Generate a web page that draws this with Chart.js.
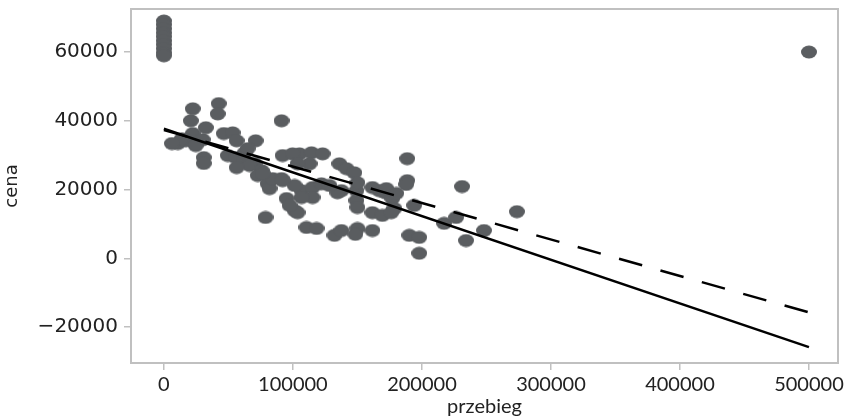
<!DOCTYPE html>
<html>
<head>
<meta charset="utf-8">
<script src="https://cdn.jsdelivr.net/npm/chart.js@4"></script>
<style>
    html, body { margin: 0; padding: 0; background: #fff; }
    #wrap { width: 847px; height: 419px; }
</style>
</head>
<body>
<div id="wrap"><canvas id="chart" width="847" height="419"></canvas></div>
<script>
// przebieg (mileage) and cena (price)
const przebieg = [
    0, 0, 0, 0, 0, 0, 0, 0, 0, 0,
    10800, 17000, 22400, 22400, 20900, 30100, 32500, 30900, 30900, 42500,
    41700, 46400, 53300, 56400, 49500, 55700, 61800, 62600, 71100, 70300,
    66500, 75800, 72700, 78800, 80400, 81900, 84300, 91200, 91200, 92000,
    95100, 101300, 103600, 105100, 114400, 112900, 106700, 115200, 123000, 122100,
    110500, 118300, 132200, 137600, 150000, 148400, 161600, 136000, 141500, 147600,
    137600, 134500, 149200, 149200, 150000, 161600, 169300, 167000, 171600, 177000,
    178600, 188600, 188600, 187800, 194000, 190200, 197900, 197900, 217200, 226500,
    231100, 234200, 248100, 273600, 500000,
    56400, 76500, 99700, 103600, 101300, 115200, 106700, 97400, 92000, 64900,
    24700, 13900, 6200, 150000, 161600, 172400, 180100, 128300, 176200,
];
const cena = [
    69000, 67900, 66700, 65500, 64400, 63200, 62100, 60900, 59700, 58900,
    33400, 34200, 36300, 43500, 40000, 34500, 38000, 29300, 27600, 45000,
    42000, 36300, 36500, 34200, 29900, 29300, 28400, 30700, 34200, 27600,
    27000, 25500, 24100, 11900, 21700, 20300, 23200, 40000, 23200, 29900,
    17400, 13900, 13300, 30400, 30700, 27500, 19700, 20600, 30400, 21700,
    9000, 8700, 6700, 8100, 8700, 7000, 8100, 27500, 26100, 24900,
    19700, 19100, 19700, 16800, 14800, 13300, 12500, 19700, 19100, 17400,
    14500, 29000, 22600, 21500, 15400, 6700, 6100, 1500, 10200, 11900,
    20900, 5200, 8100, 13600, 60000,
    26400, 24700, 30400, 27500, 21200, 17700, 17700, 15400, 22600, 31900,
    32800, 34800, 33400, 22000, 20600, 20300, 18900, 21200, 13300,
];

// fitted lines: ends at przebieg 0 and 500000
const lineX = [0, 500000];
const solidFit = [37700, -25800];
const dashedFit = [37300, -15700];

const xTicks = [0, 100000, 200000, 300000, 400000, 500000];
const yTicks = [-20000, 0, 20000, 40000, 60000];

const frameColor = "#c0c0c0";
const dotColor = "#5a5d60";

// ellipse marker
const dot = document.createElement("canvas");
dot.width = 16;
dot.height = 14;
{
    const c = dot.getContext("2d");
    c.fillStyle = dotColor;
    c.beginPath();
    c.ellipse(8, 7, 8, 6.5, 0, 0, Math.PI * 2);
    c.fill();
}

const pairs = (xs, ys) => xs.map((x, i) => ({ x, y: ys[i] }));

const frame = {
    id: "frame",
    afterDraw(chart) {
        const { ctx, chartArea: a } = chart;
        ctx.save();
        ctx.strokeStyle = frameColor;
        ctx.lineWidth = 2;
        ctx.strokeRect(a.left, a.top, a.right - a.left, a.bottom - a.top);
        ctx.restore();
    },
};

new Chart(document.getElementById("chart"), {
    data: {
        datasets: [
            {
                type: "scatter",
                data: pairs(przebieg, cena),
                pointStyle: dot,
                pointRadius: 8,
                order: 3,
            },
            {
                type: "line",
                data: pairs(lineX, dashedFit),
                borderColor: "#000",
                borderWidth: 2.5,
                borderDash: [24, 19],
                pointRadius: 0,
                order: 2,
            },
            {
                type: "line",
                data: pairs(lineX, solidFit),
                borderColor: "#000",
                borderWidth: 2.5,
                pointRadius: 0,
                order: 1,
            },
        ],
    },
    options: {
        responsive: false,
        animation: false,
        layout: { padding: { top: 2, right: 7, left: 0, bottom: 0 } },
        plugins: {
            legend: { display: false },
            tooltip: { enabled: false },
        },
        scales: {
            x: {
                type: "linear",
                min: -25500,
                max: 522500,
                afterFit: (s) => {
                    s.height = 56;
                    s.paddingLeft = 0;
                    s.paddingRight = 0;
                },
                afterBuildTicks: (s) => { s.ticks = xTicks.map((v) => ({ value: v })); },
                grid: { drawOnChartArea: false, tickLength: 7, color: frameColor, lineWidth: 1.5 },
                border: { color: frameColor, width: 2 },
                ticks: {
                    color: "#222",
                    padding: 3,
                    font: { family: "Lato", size: 20 },
                    callback: (v) => String(v),
                },
                title: {
                    display: true,
                    text: "przebieg",
                    color: "#222",
                    font: { family: "Lato", size: 20 },
                    padding: { top: 0, bottom: 0 },
                },
            },
            y: {
                type: "linear",
                min: -30400,
                max: 72500,
                afterFit: (s) => {
                    s.width = 131;
                    s.paddingTop = 0;
                    s.paddingBottom = 0;
                },
                afterBuildTicks: (s) => { s.ticks = yTicks.map((v) => ({ value: v })); },
                grid: { drawOnChartArea: false, tickLength: 7, color: frameColor, lineWidth: 1.5 },
                border: { color: frameColor, width: 2 },
                ticks: {
                    color: "#222",
                    padding: 6,
                    font: { family: "DejaVu Sans", size: 20 },
                    callback: (v) => (v < 0 ? "\u2212" + Math.abs(v) : String(v)),
                },
                title: {
                    display: true,
                    text: "cena",
                    color: "#222",
                    font: { family: "DejaVu Sans", size: 18 },
                    padding: { top: 2, bottom: 0 },
                },
            },
        },
    },
    plugins: [frame],
});
</script>
</body>
</html>
